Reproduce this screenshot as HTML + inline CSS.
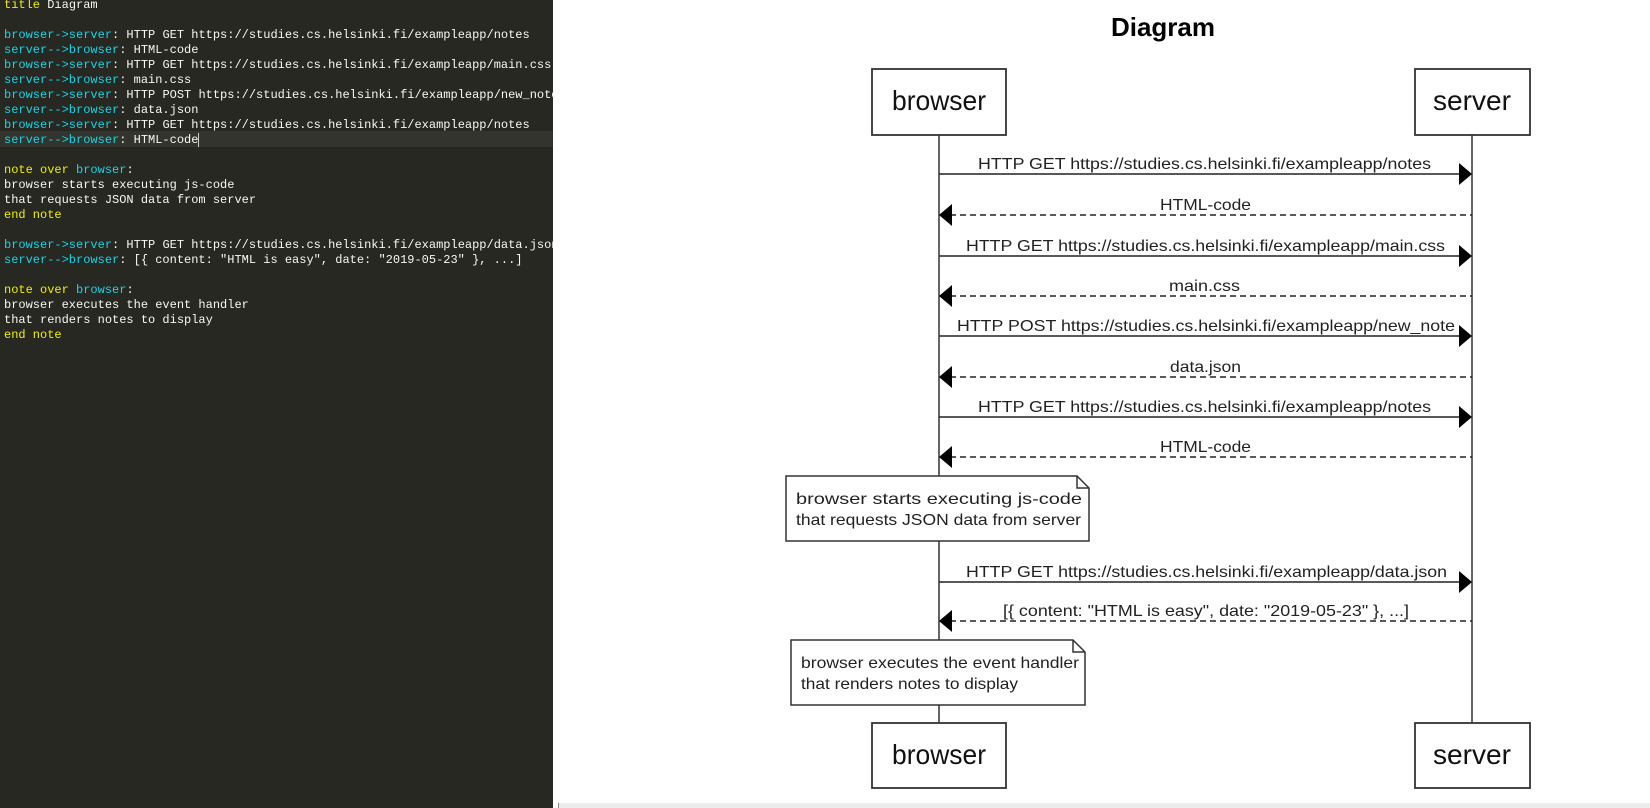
<!DOCTYPE html>
<html><head><meta charset="utf-8"><style>
html,body{margin:0;padding:0;width:1650px;height:808px;overflow:hidden;background:#fff}
#ed{position:absolute;left:0;top:0;width:553px;height:808px;background:#272822;overflow:hidden;font-family:"Liberation Mono",monospace;font-size:12px;color:#f8f8f2}
.l{position:absolute;left:4px;height:15px;line-height:15px;white-space:pre}
.y{color:#f0f000}.c{color:#19d4e6}
#cur{position:absolute;left:0;top:131px;width:553px;height:16px;background:#33342e}
#strip{position:absolute;left:558px;top:803px;width:1092px;height:5px;background:#ececec;border-left:1px solid #888}
svg{position:absolute;left:0;top:0}
</style></head><body>
<div id="ed">
<div id="cur"></div>
<div class="l" style="top:-2px"><span class="y">title</span> Diagram</div>
<div class="l" style="top:28px"><span class="c">browser-&gt;server</span>: HTTP GET https://studies.cs.helsinki.fi/exampleapp/notes</div>
<div class="l" style="top:43px"><span class="c">server--&gt;browser</span>: HTML-code</div>
<div class="l" style="top:58px"><span class="c">browser-&gt;server</span>: HTTP GET https://studies.cs.helsinki.fi/exampleapp/main.css</div>
<div class="l" style="top:73px"><span class="c">server--&gt;browser</span>: main.css</div>
<div class="l" style="top:88px"><span class="c">browser-&gt;server</span>: HTTP POST https://studies.cs.helsinki.fi/exampleapp/new_note</div>
<div class="l" style="top:103px"><span class="c">server--&gt;browser</span>: data.json</div>
<div class="l" style="top:118px"><span class="c">browser-&gt;server</span>: HTTP GET https://studies.cs.helsinki.fi/exampleapp/notes</div>
<div class="l" style="top:133px"><span class="c">server--&gt;browser</span>: HTML-code<span style="border-left:1px solid #ccc"></span></div>
<div class="l" style="top:163px"><span class="y">note over</span> <span class="c">browser</span>:</div>
<div class="l" style="top:178px">browser starts executing js-code</div>
<div class="l" style="top:193px">that requests JSON data from server</div>
<div class="l" style="top:208px"><span class="y">end note</span></div>
<div class="l" style="top:238px"><span class="c">browser-&gt;server</span>: HTTP GET https://studies.cs.helsinki.fi/exampleapp/data.json</div>
<div class="l" style="top:253px"><span class="c">server--&gt;browser</span>: [{ content: "HTML is easy", date: "2019-05-23" }, ...]</div>
<div class="l" style="top:283px"><span class="y">note over</span> <span class="c">browser</span>:</div>
<div class="l" style="top:298px">browser executes the event handler</div>
<div class="l" style="top:313px">that renders notes to display</div>
<div class="l" style="top:328px"><span class="y">end note</span></div>
</div>
<div id="strip"></div>
<svg width="1650" height="808" font-family="Liberation Sans, Arial, sans-serif">
<text x="1163" y="36" font-size="26" font-weight="bold" text-anchor="middle" fill="#000">Diagram</text>
<g stroke="#333" stroke-width="1.5" fill="none">
<line x1="939" y1="135" x2="939" y2="723"/>
<line x1="1472" y1="135" x2="1472" y2="723"/>
</g>
<g stroke="#333" stroke-width="1.8" fill="#fff">
<rect x="872" y="69" width="134" height="66"/>
<rect x="1415" y="69" width="115" height="66"/>
<rect x="872" y="723" width="134" height="65"/>
<rect x="1415" y="723" width="115" height="65"/>
</g>
<g font-size="28" fill="#111" text-anchor="middle">
<text x="939" y="110" textLength="94" lengthAdjust="spacingAndGlyphs">browser</text>
<text x="1472" y="110" textLength="78" lengthAdjust="spacingAndGlyphs">server</text>
<text x="939" y="764" textLength="94" lengthAdjust="spacingAndGlyphs">browser</text>
<text x="1472" y="764" textLength="78" lengthAdjust="spacingAndGlyphs">server</text>
</g>
<g stroke="#222" stroke-width="1.5">
<line x1="939" y1="174" x2="1462" y2="174"/>
<line x1="950" y1="215" x2="1472" y2="215" stroke-dasharray="6,4"/>
<line x1="939" y1="256" x2="1462" y2="256"/>
<line x1="950" y1="296" x2="1472" y2="296" stroke-dasharray="6,4"/>
<line x1="939" y1="336" x2="1462" y2="336"/>
<line x1="950" y1="377" x2="1472" y2="377" stroke-dasharray="6,4"/>
<line x1="939" y1="417" x2="1462" y2="417"/>
<line x1="950" y1="457" x2="1472" y2="457" stroke-dasharray="6,4"/>
<line x1="939" y1="582" x2="1462" y2="582"/>
<line x1="950" y1="621" x2="1472" y2="621" stroke-dasharray="6,4"/>
</g>
<g fill="#000">
<polygon points="1459,163 1472,174 1459,185"/>
<polygon points="952,204 939,215 952,226"/>
<polygon points="1459,245 1472,256 1459,267"/>
<polygon points="952,285 939,296 952,307"/>
<polygon points="1459,325 1472,336 1459,347"/>
<polygon points="952,366 939,377 952,388"/>
<polygon points="1459,406 1472,417 1459,428"/>
<polygon points="952,446 939,457 952,468"/>
<polygon points="1459,571 1472,582 1459,593"/>
<polygon points="952,610 939,621 952,632"/>
</g>
<g font-size="16" fill="#222" lengthAdjust="spacingAndGlyphs">
<text x="978" y="169" textLength="453" lengthAdjust="spacingAndGlyphs">HTTP GET https://studies.cs.helsinki.fi/exampleapp/notes</text>
<text x="1160" y="210" textLength="91" lengthAdjust="spacingAndGlyphs">HTML-code</text>
<text x="966" y="251" textLength="479" lengthAdjust="spacingAndGlyphs">HTTP GET https://studies.cs.helsinki.fi/exampleapp/main.css</text>
<text x="1169" y="291" textLength="71" lengthAdjust="spacingAndGlyphs">main.css</text>
<text x="957" y="331" textLength="498" lengthAdjust="spacingAndGlyphs">HTTP POST https://studies.cs.helsinki.fi/exampleapp/new_note</text>
<text x="1170" y="372" textLength="71" lengthAdjust="spacingAndGlyphs">data.json</text>
<text x="978" y="412" textLength="453" lengthAdjust="spacingAndGlyphs">HTTP GET https://studies.cs.helsinki.fi/exampleapp/notes</text>
<text x="1160" y="452" textLength="91" lengthAdjust="spacingAndGlyphs">HTML-code</text>
<text x="966" y="577" textLength="481" lengthAdjust="spacingAndGlyphs">HTTP GET https://studies.cs.helsinki.fi/exampleapp/data.json</text>
<text x="1003" y="616" textLength="406" lengthAdjust="spacingAndGlyphs">[{ content: "HTML is easy", date: "2019-05-23" }, ...]</text>
</g>
<g stroke="#333" stroke-width="1.5" fill="#fff">
<path d="M786,476 H1077 L1089,488 V541 H786 Z"/>
<path d="M1077,476 V488 H1089" fill="none"/>
<path d="M791,640 H1073 L1085,652 V705 H791 Z"/>
<path d="M1073,640 V652 H1085" fill="none"/>
</g>
<g font-size="16" fill="#222">
<text x="796" y="504" textLength="286" lengthAdjust="spacingAndGlyphs">browser starts executing js-code</text>
<text x="796" y="525" textLength="285" lengthAdjust="spacingAndGlyphs">that requests JSON data from server</text>
<text x="801" y="668" textLength="278" lengthAdjust="spacingAndGlyphs">browser executes the event handler</text>
<text x="801" y="689" textLength="217" lengthAdjust="spacingAndGlyphs">that renders notes to display</text>
</g>
</svg>
</body></html>
